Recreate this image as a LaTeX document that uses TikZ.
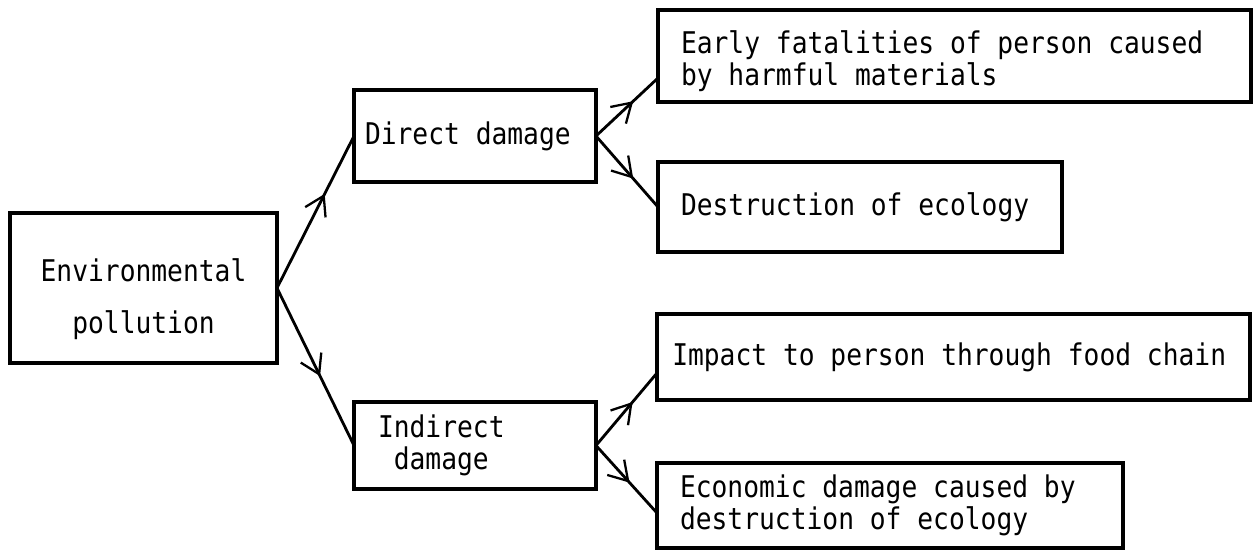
\documentclass[tikz,border=0pt]{standalone}
\usepackage{fontspec}
\newfontfamily\typefont[FakeStretch=0.88]{DejaVu Sans Mono}
\newcommand\boxfont{\typefont\fontsize{17}{18.5}\selectfont}
\newcommand\monospace{\spaceskip=9pt\xspaceskip=9pt\relax}
\usetikzlibrary{arrows.meta,decorations.markings}

\begin{document}
\begin{tikzpicture}[
    x = 0.2mm,
    y = -0.2mm,
    box/.style = {
      draw,
      line width = 2.2pt,
      anchor = north west,
      inner sep = 0pt,
      outer sep = 0pt,
      font = \boxfont,
      execute at begin node = \monospace
    },
    flow/.style = {
      line width = 1.6pt,
      postaction = {decorate},
      decoration = {markings,
        mark = at position #1 with {\arrow[line width=1.3pt]{Straight Barb[length=10.5pt,width=13pt]}}}
    },
    flow/.default = 0.6
  ]
\useasboundingbox (0,0) rectangle (1257,552);

% left column
\node[box, minimum width=53.4mm, minimum height=30mm, align=center] (env) at (10,213) {\rule{0pt}{26pt}Environmental\\[11pt]pollution};

% middle column
\node[box, minimum width=48.4mm, minimum height=18.4mm, text width=44mm, align=left] (direct) at (354,90) {Direct damage};
\node[box, minimum width=48.4mm, minimum height=17.4mm, text width=38.8mm, align=left] (indirect) at (354,402) {Indirect\\\phantom{x}damage};

% right column
\node[box, minimum width=118.6mm, minimum height=18.4mm, text width=109.4mm, align=left] (early) at (658,10) {\rule{0pt}{19pt}Early fatalities of person caused\\by harmful materials};
\node[box, minimum width=80.8mm, minimum height=18mm, text width=71.6mm, align=left] (destr) at (658,162) {Destruction of ecology};
\node[box, minimum width=118.6mm, minimum height=17.2mm, text width=112.5mm, align=left] (impact) at (657,314) {Impact to person through food chain};
\node[box, minimum width=93.2mm, minimum height=17mm, text width=84mm, align=left] (econ) at (657,463) {Economic damage caused by\\destruction of ecology};

% arrows
\draw[flow=0.62] (env.east) -- (direct.west);
\draw[flow=0.56] (env.east) -- (indirect.west);
\draw[flow] (direct.east) -- ([yshift=-4.4mm]early.west);
\draw[flow] (direct.east) -- (destr.west);
\draw[flow] (indirect.east) -- ([yshift=-3.2mm]impact.west);
\draw[flow=0.55] (indirect.east) -- ([yshift=-1.5mm]econ.west);

\end{tikzpicture}
\end{document}
